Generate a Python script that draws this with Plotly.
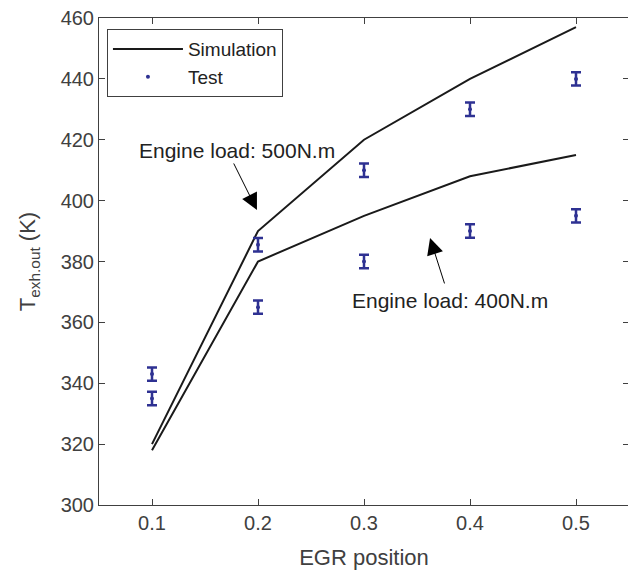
import plotly.graph_objects as go

egr = [0.1, 0.2, 0.3, 0.4, 0.5]
sim_500 = [320, 390, 420, 440, 457]
sim_400 = [318, 380, 395, 408, 415]
test_500 = [343, 385.5, 410, 430, 440]
test_400 = [335, 365, 380, 390, 395]
test_err = [2.2, 2.2, 2.2, 2.2, 2.2]

line_col = "#1a1a1a"
test_col = "#2E3192"
txt_col = "#404040"

fig = go.Figure()
fig.add_trace(go.Scatter(x=egr, y=sim_500, mode="lines", name="Simulation",
                         line=dict(color=line_col, width=2)))
fig.add_trace(go.Scatter(x=egr, y=sim_400, mode="lines", name="Simulation",
                         line=dict(color=line_col, width=2), showlegend=False))
err = dict(type="data", array=test_err, visible=True, color=test_col, thickness=2.5, width=5)
fig.add_trace(go.Scatter(x=egr, y=test_500, mode="markers", name="Test",
                         marker=dict(color=test_col, size=4), error_y=err))
fig.add_trace(go.Scatter(x=egr, y=test_400, mode="markers", name="Test",
                         marker=dict(color=test_col, size=4), error_y=err, showlegend=False))

fig.add_annotation(x=0.199, y=396.9, ax=0.1764, ay=412.7, axref="x", ayref="y",
                   text="", showarrow=True, arrowhead=2, arrowsize=3.3, arrowwidth=1,
                   arrowcolor="black")
fig.add_annotation(x=0.3623, y=387.7, ax=0.3764, ay=372.3, axref="x", ayref="y",
                   text="", showarrow=True, arrowhead=2, arrowsize=3.3, arrowwidth=1,
                   arrowcolor="black")
fig.add_annotation(x=0.1802, y=416.6, text="Engine load: 500N.m", showarrow=False,
                   font=dict(size=21, color="#222222"))
fig.add_annotation(x=0.3811, y=367.3, text="Engine load: 400N.m", showarrow=False,
                   font=dict(size=21, color="#222222"))

axis_common = dict(showline=True, linecolor=txt_col, linewidth=1, mirror="ticks",
                   ticks="inside", ticklen=6, tickcolor=txt_col, showgrid=False,
                   zeroline=False, tickfont=dict(size=20, color=txt_col),
                   ticklabeloverflow="allow", automargin=False)
fig.update_xaxes(range=[0.05, 0.55], tickvals=egr, ticktext=["0.1", "0.2", "0.3", "0.4", "0.5"],
                 title=dict(text="EGR position", font=dict(size=22, color=txt_col), standoff=16),
                 **axis_common)
fig.update_yaxes(range=[300, 460], dtick=20,
                 title=dict(text="T<sub>exh.out</sub> (K)", font=dict(size=22, color=txt_col), standoff=18),
                 **axis_common)

fig.update_layout(width=636, height=575, plot_bgcolor="white", paper_bgcolor="white",
                  margin=dict(l=91, r=15, t=10, b=78, autoexpand=False),
                  font=dict(family="Liberation Sans, Arial, sans-serif", color=txt_col),
                  legend=dict(x=0.015, y=0.977, xanchor="left", yanchor="top",
                              bgcolor="white", bordercolor=txt_col, borderwidth=1,
                              itemwidth=70,
                              font=dict(size=19, color="#222222"), tracegroupgap=0))

fig.write_html("out.html")
